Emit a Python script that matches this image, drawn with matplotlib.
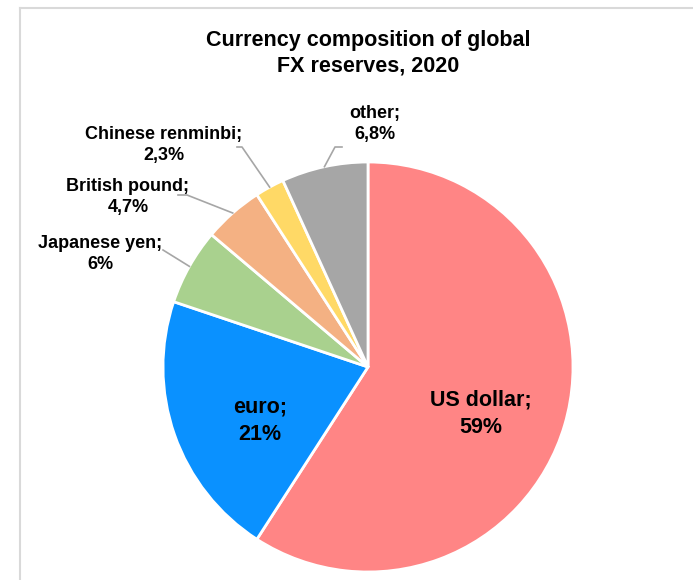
import numpy as np
from matplotlib import pyplot as plt
from matplotlib.lines import Line2D

# currency shares of allocated FX reserves, 2020 (%)
currencies = ['US dollar', 'euro', 'Japanese yen', 'British pound',
              'Chinese renminbi', 'other']
shares = [59, 21, 6, 4.7, 2.3, 6.8]
share_text = ['59%', '21%', '6%', '4,7%', '2,3%', '6,8%']
colors = ['#FF8585', '#0A91FF', '#A9D18E', '#F4B183', '#FFD966', '#A6A6A6']

W, H = 693, 580
plt.rcParams['font.family'] = ['Liberation Sans', 'DejaVu Sans']

fig = plt.figure(figsize=(W / 100, H / 100), dpi=100)
# work in pixel units, y measured from the top
ax = fig.add_axes([0, 0, 1, 1])
ax.set_xlim(0, W)
ax.set_ylim(H, 0)
ax.set_aspect('equal')
ax.axis('off')

cx, cy, r = 368, 367, 205
# y axis is flipped, so counterclock=True draws clockwise on screen
# and the start angle is mirrored
wedges, _ = ax.pie(shares, colors=colors, startangle=-90, counterclock=True,
                   center=(cx, cy), radius=r, frame=True,
                   wedgeprops=dict(edgecolor='white', linewidth=2))
ax.set_xlim(0, W)
ax.set_ylim(H, 0)
ax.axis('off')

fig.text(368 / W, 1 - 53 / H, 'Currency composition of global\nFX reserves, 2020',
         ha='center', va='center', fontsize=15.5, fontweight='bold',
         linespacing=1.3)

# labels inside the two big slices
inner = {0: (481, 414), 1: (260, 421)}
for i, (x, y) in inner.items():
    ax.text(x, y, f'{currencies[i]};\n{share_text[i]}', ha='center', va='center',
            fontsize=15.5, fontweight='bold', linespacing=1.38)

# outside labels: text centre, then leader path (elbow points)
outer = {
    2: ((100, 254), [(163, 250)]),
    3: ((128, 197), [(187, 195), (178, 195)]),
    4: ((164, 145), [(242, 147), (237, 147)]),
    5: ((375, 124), [(335, 147), (342, 147)]),
}
for i, ((tx, ty), path) in outer.items():
    ax.text(tx, ty, f'{currencies[i]};\n{share_text[i]}', ha='center', va='center',
            fontsize=13, fontweight='bold', linespacing=1.25)
    w = wedges[i]
    mid = np.deg2rad((w.theta1 + w.theta2) / 2)
    ex = cx + r * np.cos(mid)
    ey = cy + r * np.sin(mid)
    xs = [ex] + [p[0] for p in path]
    ys = [ey] + [p[1] for p in path]
    ax.plot(xs, ys, color='#A6A6A6', linewidth=1.2)

# chart area border (top and left edges)
fig.add_artist(Line2D([20 / W, 1], [1 - 8 / H, 1 - 8 / H], color='#D9D9D9',
                      linewidth=1.5))
fig.add_artist(Line2D([20 / W, 20 / W], [0, 1 - 8 / H], color='#D9D9D9',
                      linewidth=1.5))

fig.savefig('out.png', dpi=100)
